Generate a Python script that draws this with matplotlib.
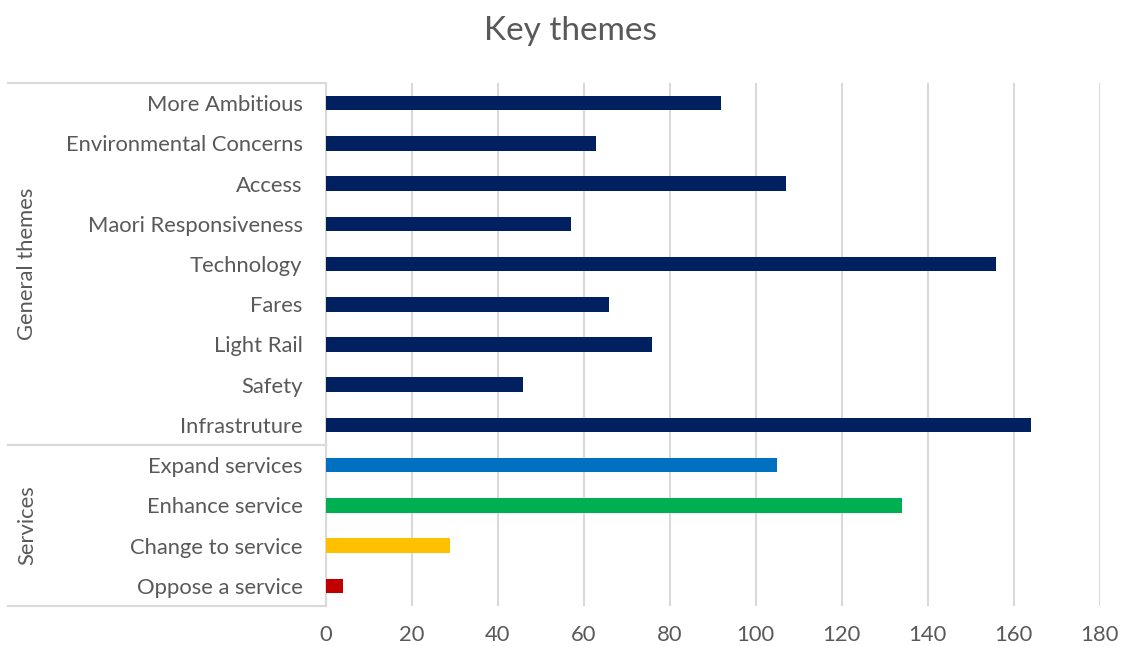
import matplotlib.pyplot as plt
from matplotlib.transforms import blended_transform_factory

plt.rcParams['font.family'] = ['Lato', 'DejaVu Sans']

# categories listed bottom to top
labels = ['Oppose a service', 'Change to service', 'Enhance service', 'Expand services',
          'Infrastruture', 'Safety', 'Light Rail', 'Fares', 'Technology',
          'Maori Responsiveness', 'Access', 'Environmental Concerns', 'More Ambitious']
values = [4, 29, 134, 105, 164, 46, 76, 66, 156, 57, 107, 63, 92]
colors = ['#C00000', '#FFC000', '#00B050', '#0070C0'] + ['#002060'] * 9

groups = ['Services', 'General themes']
group_bounds = [(-0.5, 3.5), (3.5, 12.5)]

text_col = '#595959'
grid_col = '#D9D9D9'
fs = 15.8

fig = plt.figure(figsize=(11.21, 6.46), dpi=100)
ax = fig.add_axes([325.5 / 1121, 40 / 646, 774 / 1121, 523 / 646])

y = range(len(labels))
ax.barh(y, values, height=0.36, color=colors, zorder=3)

ax.set_xlim(0, 180)
ax.set_ylim(-0.5, 12.5)
ax.set_xticks(range(0, 181, 20))
ax.set_yticks(list(y))
ax.set_yticklabels(labels)
ax.tick_params(axis='y', length=0, pad=16.5, labelsize=fs, labelcolor=text_col)
ax.tick_params(axis='x', length=0, pad=14, labelsize=fs, labelcolor=text_col)
ax.grid(axis='x', color=grid_col, lw=1.5, zorder=0)
for s in ['top', 'right', 'bottom']:
    ax.spines[s].set_visible(False)
ax.spines['left'].set_color(grid_col)
ax.spines['left'].set_linewidth(1.5)

# group brackets on the left of the category labels
tr = blended_transform_factory(fig.transFigure, ax.transData)
x0, x1 = 8 / 1121, 325.5 / 1121
for lo, hi in group_bounds:
    for yy in (lo, hi):
        ax.plot([x0, x1], [yy, yy], color=grid_col, lw=1.5, transform=tr, clip_on=False)
for name, (lo, hi) in zip(groups, group_bounds):
    ax.text(27 / 1121, (lo + hi) / 2, name, rotation=90, ha='center', va='center',
            fontsize=fs, color=text_col, transform=tr)

fig.text(0.509, 1 - 31 / 646, 'Key themes', ha='center', va='center', fontsize=24, color=text_col)

fig.savefig('out.png', dpi=100)
